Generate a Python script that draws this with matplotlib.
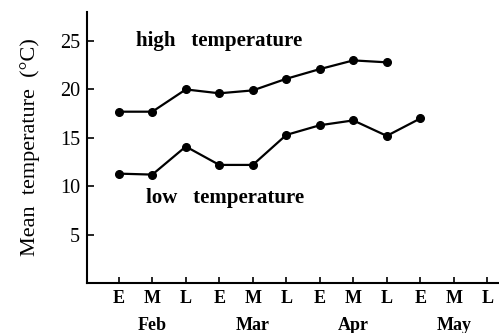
import matplotlib.pyplot as plt
import numpy as np

periods = ['E', 'M', 'L'] * 4
months = ['Feb', 'Mar', 'Apr', 'May']
high_temp = [17.7, 17.7, 20.0, 19.6, 19.9, 21.1, 22.1, 23.0, 22.8]
low_temp = [11.3, 11.2, 14.1, 12.2, 12.2, 15.3, 16.3, 16.8, 15.2, 17.0]

plt.rcParams['font.family'] = 'Liberation Serif'

fig = plt.figure(figsize=(4.99, 3.33), dpi=100)
ax = fig.add_axes([87/499, 1 - 283/333, 412/499, 271/333])

x = np.arange(len(periods))
ax.plot(np.arange(len(high_temp)), high_temp, '-k', marker='o', ms=5.5, lw=1.6)
ax.plot(np.arange(len(low_temp)), low_temp, '-k', marker='o', ms=5.5, lw=1.6)

ax.set_xlim(-0.95, 11.35)
ax.set_ylim(0, 28)
ax.set_xticks(x)
ax.set_xticklabels(periods, fontsize=13, fontweight='bold')
ax.set_yticks([5, 10, 15, 20, 25])
ax.set_yticklabels(['5', '10', '15', '20', '25'], fontsize=14.5)
ax.tick_params(axis='y', direction='in', length=5, width=1.2, pad=5)
ax.tick_params(axis='x', direction='in', length=4, width=1.2, pad=5)
for s in ['top', 'right']:
    ax.spines[s].set_visible(False)
for s in ['left', 'bottom']:
    ax.spines[s].set_linewidth(1.5)

for i, m in enumerate(months):
    ax.text(3 * i + 1, -0.155, m, transform=ax.get_xaxis_transform(),
            ha='center', va='center', fontsize=13, fontweight='bold')

ax.text(0.5, 25, 'high   temperature', fontsize=15, fontweight='bold', va='center')
ax.text(0.8, 8.8, 'low   temperature', fontsize=15, fontweight='bold', va='center')
ax.set_ylabel('Mean  temperature  (°C)', fontsize=16, labelpad=14)

fig.savefig('out.png', dpi=100)
